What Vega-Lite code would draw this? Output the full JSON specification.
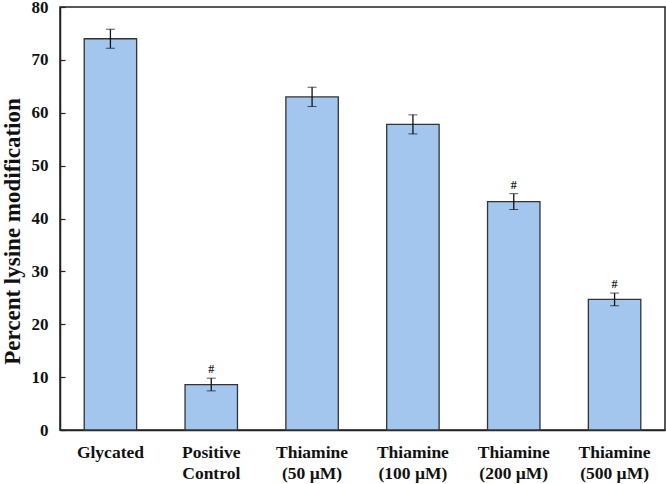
{
  "$schema": "https://vega.github.io/schema/vega-lite/v6.json",
  "width": 605,
  "height": 423,
  "autosize": {"type": "none"},
  "padding": {"left": 60, "top": 7, "right": 1, "bottom": 54},
  "background": "white",
  "config": {
    "view": {"stroke": "#222", "strokeWidth": 1.5},
    "font": "Liberation Serif"
  },
  "data": {
    "values": [
      {"group": "Glycated", "value": 74.0, "lo": 72.2, "hi": 75.8, "sig": ""},
      {"group": "Positive|Control", "value": 8.6, "lo": 7.4, "hi": 9.8, "sig": "#"},
      {"group": "Thiamine|(50 µM)", "value": 63.0, "lo": 61.2, "hi": 64.8, "sig": ""},
      {"group": "Thiamine|(100 µM)", "value": 57.8, "lo": 56.0, "hi": 59.6, "sig": ""},
      {"group": "Thiamine|(200 µM)", "value": 43.2, "lo": 41.7, "hi": 44.7, "sig": "#"},
      {"group": "Thiamine|(500 µM)", "value": 24.7, "lo": 23.5, "hi": 25.9, "sig": "#"}
    ]
  },
  "encoding": {
    "x": {
      "field": "group",
      "type": "nominal",
      "sort": null,
      "scale": {"paddingInner": 0.48, "paddingOuter": 0.24},
      "axis": {
        "title": null,
        "labelAngle": 0,
        "labelExpr": "split(datum.value, '|')",
        "labelFont": "Liberation Serif",
        "labelFontWeight": "bold",
        "labelFontSize": 17.5,
        "labelColor": "#111",
        "labelLineHeight": 21,
        "labelPadding": 13,
        "ticks": false,
        "domainColor": "#222",
        "domainWidth": 1.5
      }
    }
  },
  "layer": [
    {
      "mark": {"type": "bar", "fill": "#a3c6ee", "stroke": "#333", "strokeWidth": 1.3},
      "encoding": {
        "y": {
          "field": "value",
          "type": "quantitative",
          "title": "Percent lysine modification",
          "scale": {"domain": [0, 80]},
          "axis": {
            "titleFont": "Liberation Serif",
            "titleFontSize": 23,
            "titleFontWeight": "bold",
            "titleColor": "#111",
            "titleX": -48,
            "titleY": 224,
            "titleBaseline": "middle",
            "values": [0, 10, 20, 30, 40, 50, 60, 70, 80],
            "grid": false,
            "labelFont": "Liberation Serif",
            "labelFontWeight": "bold",
            "labelFontSize": 17,
            "labelColor": "#111",
            "tickSize": -5,
            "tickColor": "#222",
            "tickWidth": 1.2,
            "labelPadding": 17,
            "domainColor": "#222",
            "domainWidth": 1.5
          }
        }
      }
    },
    {
      "mark": {"type": "errorbar", "ticks": {"size": 9, "color": "#111", "strokeWidth": 1.3}, "rule": {"color": "#111", "strokeWidth": 1.3}},
      "encoding": {
        "y": {"field": "lo", "type": "quantitative", "title": "Percent lysine modification"},
        "y2": {"field": "hi"}
      }
    },
    {
      "mark": {"type": "text", "dy": -9, "font": "Liberation Serif", "fontWeight": "bold", "fontSize": 12, "color": "#222"},
      "encoding": {
        "y": {"field": "hi", "type": "quantitative", "title": "Percent lysine modification"},
        "text": {"field": "sig"}
      }
    }
  ]
}
